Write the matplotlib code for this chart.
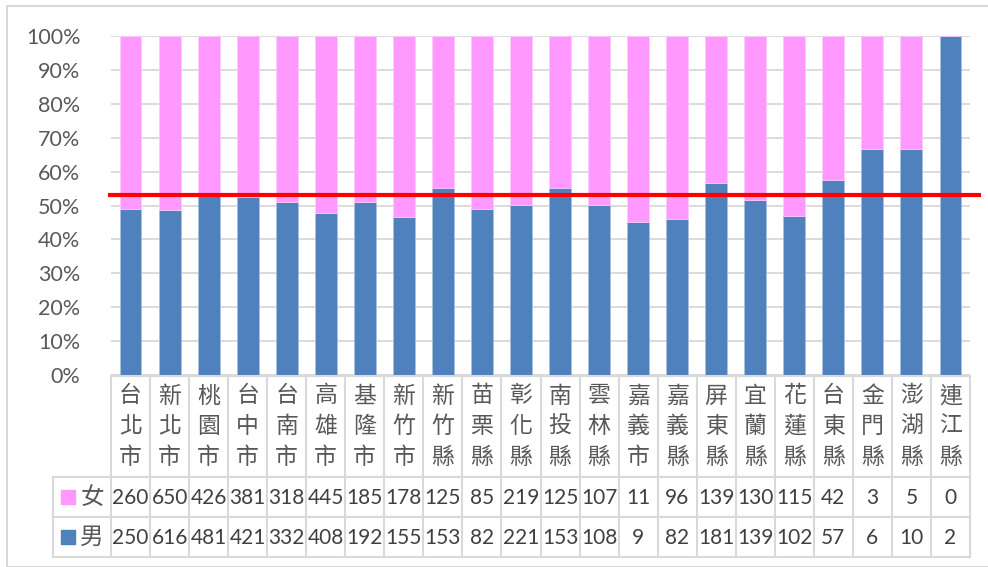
import numpy as np
import matplotlib
matplotlib.use('Agg')
import matplotlib.pyplot as plt
from matplotlib.patches import Rectangle
from matplotlib.ticker import PercentFormatter

plt.rcParams['font.family'] = ['Lato', 'Noto Sans CJK TC']

counties = ['台北市', '新北市', '桃園市', '台中市', '台南市', '高雄市', '基隆市', '新竹市',
            '新竹縣', '苗栗縣', '彰化縣', '南投縣', '雲林縣', '嘉義市', '嘉義縣', '屏東縣',
            '宜蘭縣', '花蓮縣', '台東縣', '金門縣', '澎湖縣', '連江縣']
female = [260, 650, 426, 381, 318, 445, 185, 178, 125, 85, 219, 125, 107, 11, 96, 139,
          130, 115, 42, 3, 5, 0]
male = [250, 616, 481, 421, 332, 408, 192, 155, 153, 82, 221, 153, 108, 9, 82, 181,
        139, 102, 57, 6, 10, 2]
ref_level = 0.53

blue = '#4F81BD'
pink = '#FF99FF'
grid_c = '#D9D9D9'
txt_c = '#595959'

W, H = 988, 567
fig = plt.figure(figsize=(W / 100, H / 100), dpi=100)

# outer chart border
fig.patches.append(Rectangle((7 / W, 0), 1, 1 - 6 / H, transform=fig.transFigure,
                             fill=False, edgecolor=grid_c, lw=1.5))

left, right, top, bottom = 111, 970, 36, 375
ax = fig.add_axes([left / W, 1 - bottom / H, (right - left) / W, (bottom - top) / H])

f = np.array(female, float)
m = np.array(male, float)
tot = f + m
x = np.arange(len(counties))
ax.bar(x, m / tot, width=0.56, color=blue, edgecolor='#A9C0DE', lw=0.5, zorder=2)
ax.bar(x, f / tot, bottom=m / tot, width=0.56, color=pink, edgecolor='#FFCCFF', lw=0.5, zorder=2)

ax.set_xlim(-0.5, len(counties) - 0.5)
ax.set_ylim(0, 1)
ax.set_yticks(np.arange(0, 1.01, 0.1))
ax.yaxis.set_major_formatter(PercentFormatter(1.0, decimals=0))
ax.tick_params(axis='y', length=0, pad=22, labelsize=15.5, labelcolor=txt_c)
ax.set_xticks([])
ax.yaxis.grid(True, color=grid_c, lw=1.3)
ax.set_axisbelow(True)
for s in ax.spines.values():
    s.set_visible(False)

colw = (right - left) / len(counties)
ax.plot([-0.5 - 3 / colw, len(counties) - 0.5 + 11 / colw], [ref_level, ref_level],
        color='#FF0000', lw=3, clip_on=False, zorder=4, solid_capstyle='butt')

# data table under the plot
tleft, tbottom = 53, 557
tax = fig.add_axes([tleft / W, 1 - tbottom / H, (right - tleft) / W, (tbottom - bottom) / H])
x0 = -0.5 - (left - tleft) / colw
tax.set_xlim(x0, len(counties) - 0.5)
tax.set_ylim(tbottom, bottom)
tax.axis('off')

row_lines = [376, 477, 517, 557]
lk = dict(color=grid_c, lw=1.5, solid_capstyle='projecting', clip_on=False)
tax.plot([-0.5, len(counties) - 0.5], [row_lines[0]] * 2, **lk)
for yy in row_lines[1:]:
    tax.plot([x0, len(counties) - 0.5], [yy, yy], **lk)
for i in range(len(counties) + 1):
    tax.plot([i - 0.5, i - 0.5], [row_lines[0], row_lines[-1]], **lk)
tax.plot([x0, x0], [row_lines[1], row_lines[-1]], **lk)

char_y = [396, 426.5, 457]
for i, name in enumerate(counties):
    for ch, yy in zip(name, char_y):
        tax.text(i, yy, ch, ha='center', va='center', fontsize=16.5, color=txt_c,
                 family=['Noto Sans CJK TC'], fontweight='light')

for row, (label, vals, col) in enumerate([('女', female, pink), ('男', male, blue)]):
    yc = (row_lines[row + 1] + row_lines[row + 2]) / 2
    tax.add_patch(Rectangle((x0 + 8 / colw, yc - 7), 14 / colw, 14, color=col, clip_on=False))
    tax.text(x0 + 39 / colw, yc, label, ha='center', va='center', fontsize=17, color=txt_c,
             family=['Noto Sans CJK TC'], fontweight='light')
    for i, v in enumerate(vals):
        tax.text(i, yc + 1, str(v), ha='center', va='center', fontsize=15, color='#404040')

fig.savefig('out.png', dpi=100)
